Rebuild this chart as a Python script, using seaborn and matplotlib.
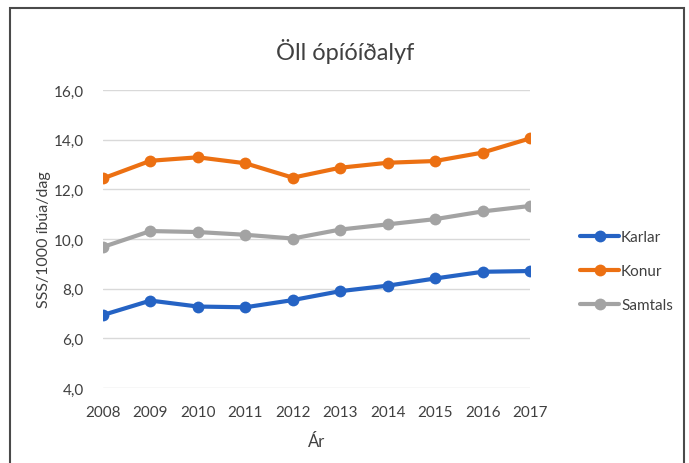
import matplotlib
matplotlib.use("Agg")
import matplotlib.pyplot as plt
import seaborn as sns
import pandas as pd
from matplotlib.patches import Rectangle
from matplotlib.ticker import FuncFormatter

years = [2008, 2009, 2010, 2011, 2012, 2013, 2014, 2015, 2016, 2017]
karlar = [6.94, 7.52, 7.28, 7.25, 7.54, 7.90, 8.12, 8.41, 8.68, 8.71]
konur = [12.44, 13.15, 13.29, 13.05, 12.47, 12.87, 13.07, 13.14, 13.48, 14.05]
samtals = [9.68, 10.32, 10.28, 10.17, 10.02, 10.38, 10.59, 10.80, 11.11, 11.33]
series_names = ["Karlar", "Konur", "Samtals"]
colors = ["#2563c4", "#ec7012", "#a3a3a3"]

df = pd.DataFrame({
    "Ár": years * 3,
    "value": karlar + konur + samtals,
    "series": [s for s in series_names for _ in years],
})

sns.set_theme(style="white")
plt.rcParams["font.family"] = ["Lato", "DejaVu Sans"]

W, H = 689, 464
fig = plt.figure(figsize=(W / 100, H / 100), dpi=100)
ax = fig.add_axes([103 / W, (H - 389) / H, 427 / W, 298 / H])

sns.lineplot(data=df, x="Ár", y="value", hue="series", palette=colors,
             marker="o", markersize=8.5, markeredgewidth=0, linewidth=3,
             ax=ax, legend=True)

ax.set_xlim(2008, 2017)
ax.set_ylim(4, 16)
ax.set_yticks([4, 6, 8, 10, 12, 14, 16])
ax.set_xticks(years)
ax.yaxis.set_major_formatter(FuncFormatter(lambda v, p: f"{v:.1f}".replace(".", ",")))
ax.grid(axis="y", color="#d9d9d9", linewidth=1)
ax.grid(axis="x", visible=False)
ax.set_axisbelow(True)
for s in ax.spines.values():
    s.set_visible(False)
ax.tick_params(axis="both", length=0, labelsize=11, colors="#404040")
ax.tick_params(axis="y", pad=14)
ax.tick_params(axis="x", pad=12)
ax.set_xlabel("Ár", fontsize=12, color="#404040", labelpad=10)
ax.set_ylabel("SSS/1000 íbúa/dag", fontsize=11.5, color="#404040", labelpad=2)

handles, labels = ax.get_legend_handles_labels()
ax.legend(handles, labels, loc="center left", bbox_to_anchor=(566 / W, 1 - 272 / H),
          bbox_transform=fig.transFigure, frameon=False, fontsize=11,
          handlelength=2.6, handletextpad=0.1, labelspacing=1.3,
          labelcolor="#404040")

fig.text(345 / W, 1 - 52 / H, "Öll ópíóíðalyf", ha="center", va="center",
         fontsize=17, color="#404040")

fig.patches.append(Rectangle((9.5 / W, -0.05), (684 - 9.5) / W, 1.05 - 8.5 / H,
                             transform=fig.transFigure, fill=False,
                             edgecolor="#4a4a4a", linewidth=1.5))

fig.savefig("out.png", dpi=100)
